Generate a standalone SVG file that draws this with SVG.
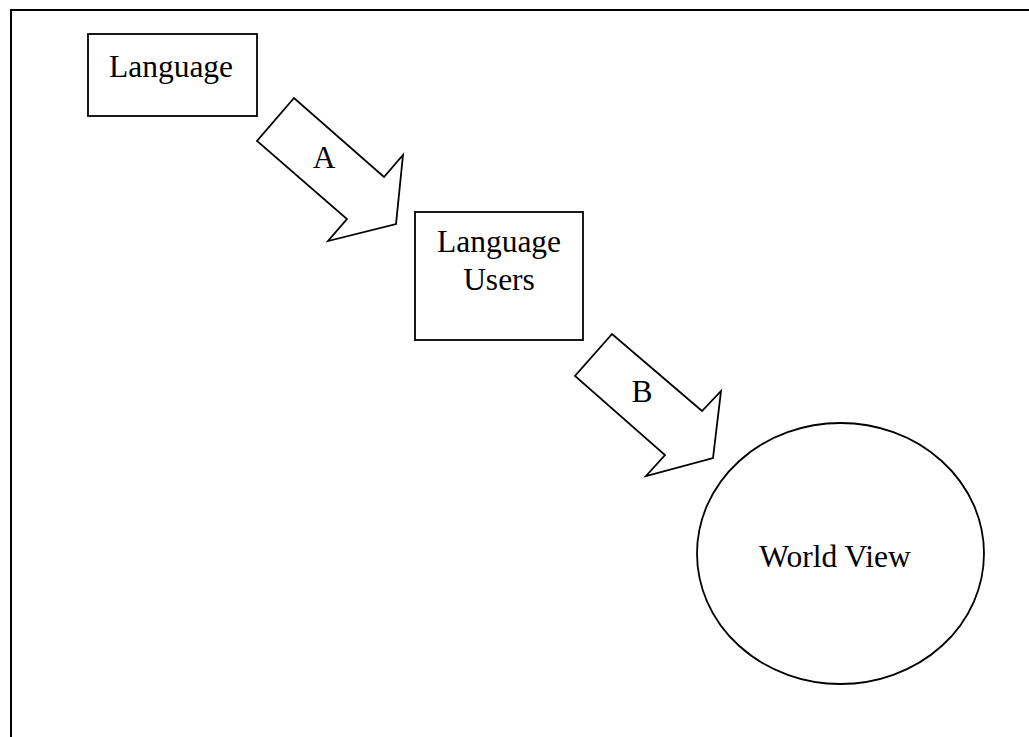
<svg xmlns="http://www.w3.org/2000/svg" width="1029" height="737" viewBox="0 0 1029 737">
<style>
.shape{fill:#fff;stroke:#000;stroke-width:1.8;stroke-linejoin:miter}
.lbl{font-family:"Liberation Serif","Times New Roman",serif;font-size:31.5px;fill:#000;text-anchor:middle}
</style>
<rect width="1029" height="737" fill="#fff"/>
<path d="M11,737 V10 H1029" fill="none" stroke="#000" stroke-width="2"/>
<g id="connectors">
<g id="arrowA">
<polygon class="shape" points="294,98 257,141 347,219 328,241 396,224 403,155 384,177"/>
<text class="lbl" x="324" y="168">A</text>
</g>
<g id="arrowB">
<polygon class="shape" points="612,334 575,376 665,455 646,476 713,458 721,391 702,411"/>
<text class="lbl" x="642" y="402">B</text>
</g>
</g>
<g id="language">
<rect class="shape" x="88" y="34" width="169" height="82"/>
<text class="lbl" x="171" y="77">Language</text>
</g>
<g id="languageUsers">
<rect class="shape" x="415" y="212" width="168" height="128"/>
<text class="lbl" x="499" y="252">Language</text>
<text class="lbl" x="499" y="290">Users</text>
</g>
<g id="worldView">
<ellipse class="shape" cx="840.5" cy="553.5" rx="143.5" ry="130.5"/>
<text class="lbl" x="835" y="567">World View</text>
</g>
</svg>
